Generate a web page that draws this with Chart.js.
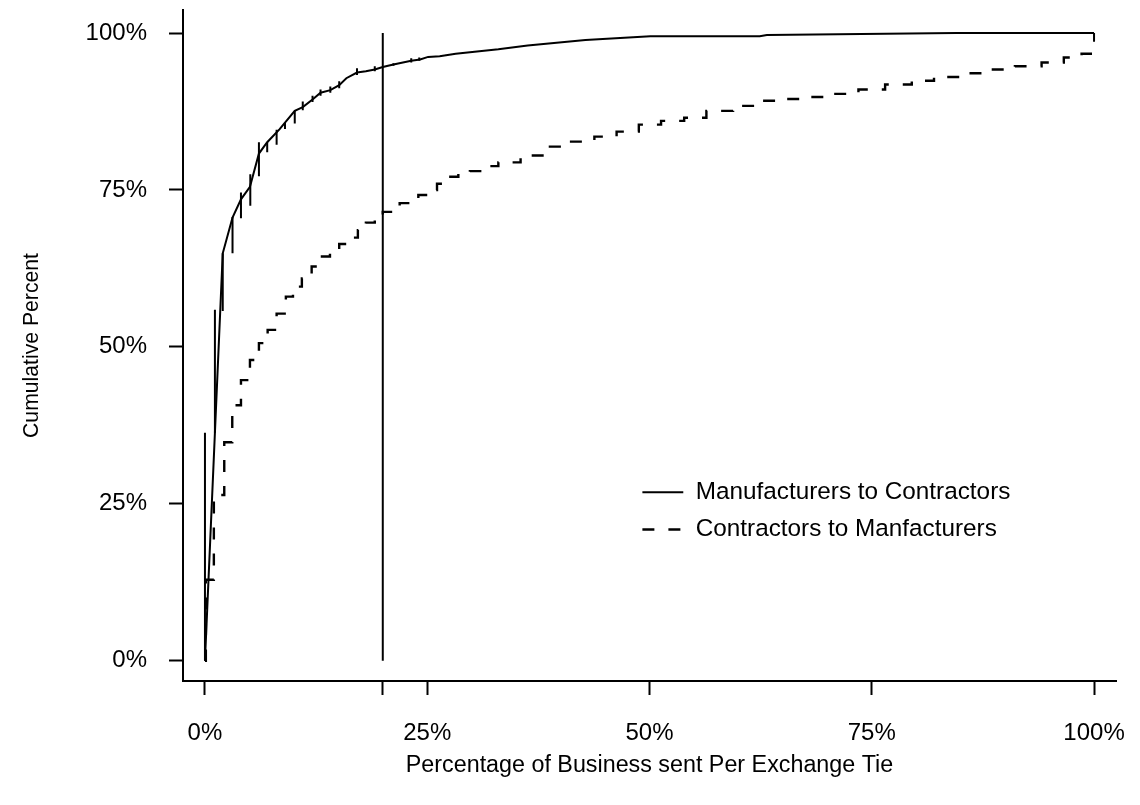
<!DOCTYPE html>
<html>
<head>
<meta charset="utf-8">
<script src="https://cdn.jsdelivr.net/npm/chart.js@4.4.1/dist/chart.umd.min.js"></script>
<style>
  html, body { margin: 0; padding: 0; background: #ffffff; }
  #wrap { width: 1140px; height: 805px; }
</style>
</head>
<body>
<div id="wrap"><canvas id="c" width="1140" height="805"></canvas></div>
<script>
// ---- Data (percent units) ----
// Manufacturers to Contractors: connecting line
const mcLineX = [0, 2.0, 3.1, 4.05, 5.06, 6.07, 7.0, 8.4, 10.1, 11.0, 12.1, 13.0, 14.1, 15.1, 15.9, 17.1, 18.1, 19.1, 20.0, 21.2, 23.2, 24.2, 25.1, 26.4, 28.2, 33.0, 36.3, 42.8, 50.1, 62.4, 63.2, 84.5, 100];
const mcLineY = [0, 64.9, 70.6, 73.5, 75.5, 80.8, 82.6, 84.7, 87.6, 88.2, 89.4, 90.5, 90.9, 91.7, 92.8, 93.7, 93.9, 94.2, 94.6, 95.0, 95.6, 95.8, 96.2, 96.3, 96.7, 97.4, 98.0, 98.9, 99.5, 99.5, 99.7, 100, 100];
// Manufacturers to Contractors: vertical jumps of the cumulative distribution
const mcJumpX  = [0, 1.12, 2.0, 3.1, 4.05, 5.1, 6.07, 7.0, 8.06, 9.0, 10.1, 11.0, 12.1, 13.0, 14.1, 15.1, 17.1, 19.1, 21.2, 23.2, 24.1, 100];
const mcJumpLo = [0, 36.3, 55.7, 64.9, 70.5, 72.5, 77.2, 81.0, 82.2, 84.7, 85.6, 87.7, 89.0, 90.0, 90.5, 91.2, 93.3, 93.9, 94.8, 95.3, 95.6, 98.6];
const mcJumpHi = [36.3, 55.9, 64.9, 70.7, 74.6, 77.5, 82.6, 82.6, 84.6, 85.7, 87.6, 89.1, 90.0, 91.0, 91.5, 92.3, 94.4, 94.7, 95.2, 96.0, 96.1, 100];

// Contractors to Manfacturers: step function (x at jump, cumulative % after jump)
const cmX = [0, 0.1, 1.0, 2.17, 3.07, 4.05, 5.06, 6.07, 7.05, 8.06, 9.1, 9.9, 10.9, 12.0, 13.0, 14.06, 15.1, 16.1, 17.2, 18.1, 19.1, 20.0, 21.1, 21.9, 23.06, 24.0, 25.1, 26.1, 27.2, 27.6, 28.5, 29.8, 31.5, 33.0, 35.5, 38.8, 40.8, 43.8, 46.3, 48.8, 51.3, 53.9, 56.4, 59.4, 62.4, 64.9, 67.9, 70.4, 73.5, 76.5, 79.5, 82.0, 85.0, 88.0, 91.1, 94.1, 96.6, 98.6, 100, 100];
const cmY = [0, 12.9, 26.4, 34.8, 40.7, 44.7, 47.9, 50.6, 52.7, 55.3, 58.0, 59.6, 60.9, 62.8, 64.4, 65.5, 66.4, 67.4, 68.6, 69.8, 70.5, 71.5, 72.2, 72.9, 73.5, 74.2, 75.0, 76.0, 76.3, 77.1, 77.6, 78.0, 78.8, 79.4, 80.5, 81.9, 82.7, 83.5, 84.3, 85.4, 86.0, 86.5, 87.6, 88.4, 89.2, 89.5, 89.8, 90.3, 91.0, 91.8, 92.4, 93.0, 93.6, 94.2, 94.7, 95.3, 96.1, 96.7, 97.2, 97.7];

// Reference line at 20%
const refX = 20;
const refY = [0, 100];

// Axis ticks
const xTickValues = [0, 20, 25, 50, 75, 100];
const xTickLabels = ['0%', '', '25%', '50%', '75%', '100%'];
const yTickValues = [0, 25, 50, 75, 100];
const yTickLabels = ['0%', '25%', '50%', '75%', '100%'];

const seriesNames = ['Manufacturers to Contractors', 'Contractors to Manfacturers'];
const xTitle = 'Percentage of Business sent Per Exchange Tie';
const yTitle = 'Cumulative Percent';

// ---- Build datasets ----
const FONT = "'Liberation Sans', Arial, Helvetica, sans-serif";
const DASH = [12, 14];

const mcLine = mcLineX.map((x, i) => ({x: x, y: mcLineY[i]}));
const mcJumps = [];
mcJumpX.forEach((x, i) => {
  mcJumps.push({x: x, y: mcJumpLo[i]});
  mcJumps.push({x: x, y: mcJumpHi[i]});
  mcJumps.push({x: x, y: null});
});
const cmSteps = cmX.map((x, i) => ({x: x, y: cmY[i]}));
const refLine = refY.map(y => ({x: refX, y: y}));

const legendPlugin = {
  id: 'rLegend',
  afterDatasetsDraw(chart) {
    const {ctx, scales: {x, y}} = chart;
    const x0 = x.getPixelForValue(49.2), x1 = x.getPixelForValue(53.8);
    const tx = x.getPixelForValue(55.2);
    const rows = [y.getPixelForValue(26.85), y.getPixelForValue(20.9)];
    ctx.save();
    ctx.strokeStyle = '#000';
    rows.forEach((py, i) => {
      ctx.lineWidth = i === 0 ? 2 : 2.4;
      ctx.setLineDash(i === 0 ? [] : DASH);
      ctx.beginPath();
      ctx.moveTo(x0, py);
      ctx.lineTo(x1, py);
      ctx.stroke();
    });
    ctx.setLineDash([]);
    ctx.fillStyle = '#000';
    ctx.font = '24.3px ' + FONT;
    ctx.textAlign = 'left';
    ctx.textBaseline = 'middle';
    rows.forEach((py, i) => ctx.fillText(seriesNames[i], tx, py));
    ctx.restore();
  }
};

const common = {pointRadius: 0, borderColor: '#000', borderWidth: 2, tension: 0, fill: false};

new Chart(document.getElementById('c'), {
  type: 'line',
  data: {
    datasets: [
      Object.assign({label: seriesNames[0], data: mcLine}, common),
      Object.assign({label: seriesNames[0] + ' jumps', data: mcJumps, spanGaps: false}, common),
      Object.assign({}, common, {label: seriesNames[1], data: cmSteps, stepped: 'before', borderDash: DASH, borderWidth: 2.4}),
      Object.assign({label: '20%', data: refLine}, common)
    ]
  },
  options: {
    responsive: false,
    animation: false,
    devicePixelRatio: 1,
    layout: {padding: {top: 10, right: 24, left: 0, bottom: 0}},
    plugins: {legend: {display: false}, tooltip: {enabled: false}},
    scales: {
      x: {
        type: 'linear',
        min: -2.47, max: 102.47,
        afterFit: s => { s.height = 124; s.paddingLeft = 0; s.paddingRight = 0; },
        afterBuildTicks: s => { s.ticks = xTickValues.map(v => ({value: v})); },
        grid: {drawOnChartArea: false, drawTicks: true, tickLength: 14, tickWidth: 2, tickColor: '#000'},
        border: {display: true, color: '#000', width: 2},
        ticks: {
          autoSkip: false, maxRotation: 0, padding: 24, color: '#000',
          font: {family: FONT, size: 24},
          callback: (v, i) => xTickLabels[i]
        },
        title: {display: true, text: xTitle, color: '#000', font: {family: FONT, size: 23.3}, padding: {top: 0, bottom: 25}}
      },
      y: {
        type: 'linear',
        min: -3.234, max: 103.67,
        afterFit: s => { s.width = 183; s.paddingTop = 0; s.paddingBottom = 0; },
        afterBuildTicks: s => { s.ticks = yTickValues.map(v => ({value: v})); },
        grid: {drawOnChartArea: false, drawTicks: true, tickLength: 14, tickWidth: 2, tickColor: '#000'},
        border: {display: true, color: '#000', width: 2},
        ticks: {
          autoSkip: false, padding: 22, color: '#000',
          font: {family: FONT, size: 24},
          callback: (v, i) => yTickLabels[i]
        },
        title: {display: true, text: yTitle, color: '#000', font: {family: FONT, size: 21.2}, padding: {top: 19, bottom: 0}}
      }
    }
  },
  plugins: [legendPlugin]
});
</script>
</body>
</html>
